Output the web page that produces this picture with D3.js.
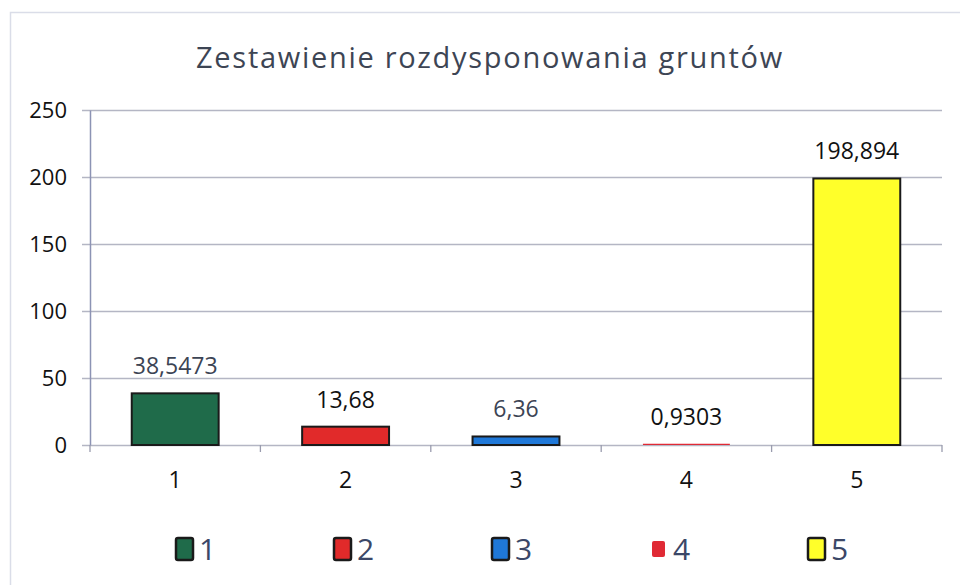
<!DOCTYPE html>
<html lang="pl">
<head>
  <meta charset="UTF-8" />
  <title>Zestawienie rozdysponowania gruntów</title>
  <script src="https://d3js.org/d3.v7.min.js"></script>
  <style>
    body { margin: 0; background: #fff; }
    svg { display: block; font-family: "Open Sans", Lato, sans-serif; }
  </style>
</head>
<body>
  <svg width="960" height="585"></svg>
  <script>
    // dane
    const categories = ["1", "2", "3", "4", "5"];
    const values = [38.5473, 13.68, 6.36, 0.9303, 198.894];
    const labels = ["38,5473", "13,68", "6,36", "0,9303", "198,894"];
    const colors = ["#1f6b4a", "#e12a2a", "#1f78d8", "#e02a35", "#ffff2a"];
    const strokes = ["#1a1a1a", "#1a1a1a", "#1a1a1a", "none", "#1a1a1a"];
    const labelColors = ["#3c4454", "#111", "#3c4454", "#111", "#111"];
    const yTicks = [0, 50, 100, 150, 200, 250];

    const width = 960, height = 585;
    const margin = { left: 90, right: 18, top: 110, bottom: 140 };
    const svg = d3.select("svg");

    // ramka wykresu
    svg.append("rect")
      .attr("x", 10.5).attr("y", 12.5)
      .attr("width", width).attr("height", height)
      .attr("fill", "none").attr("stroke", "#dadde8").attr("stroke-width", 1.5);

    const x = d3.scaleBand()
      .domain(categories)
      .range([margin.left, width - margin.right])
      .paddingInner(0.49).paddingOuter(0.245);
    const y = d3.scaleLinear()
      .domain([0, 250])
      .range([height - margin.bottom, margin.top]);

    // tytuł
    svg.append("text")
      .attr("x", 490).attr("y", 68)
      .attr("text-anchor", "middle")
      .attr("font-size", 29)
      .attr("letter-spacing", 1.7)
      .attr("fill", "#3d4554")
      .text("Zestawienie rozdysponowania gruntów");

    // linie siatki
    svg.append("g")
      .selectAll("line")
      .data(yTicks)
      .join("line")
        .attr("x1", margin.left - 8).attr("x2", width - margin.right)
        .attr("y1", d => y(d) + 0.5).attr("y2", d => y(d) + 0.5)
        .attr("stroke", "#b4b6c4").attr("stroke-width", 1.3);

    // słupki
    svg.append("g")
      .selectAll("rect")
      .data(values)
      .join("rect")
        .attr("x", (d, i) => x(categories[i]))
        .attr("y", d => y(d))
        .attr("width", x.bandwidth())
        .attr("height", d => y(0) - y(d))
        .attr("fill", (d, i) => colors[i])
        .attr("stroke", (d, i) => strokes[i])
        .attr("stroke-width", 2);

    // oś Y
    const yAxis = svg.append("g")
      .attr("transform", `translate(${margin.left},0)`)
      .call(d3.axisLeft(y).tickValues(yTicks).tickSize(0).tickPadding(23));
    yAxis.select(".domain").attr("stroke", "#8c93b4").attr("stroke-width", 1.5);
    yAxis.selectAll("text").attr("font-size", 22).attr("fill", "#111")
      .attr("font-family", "'Open Sans', Lato, sans-serif");

    // oś X
    const tickPos = d3.range(categories.length + 1)
      .map(i => margin.left + i * x.step());
    svg.append("g")
      .selectAll("line")
      .data(tickPos)
      .join("line")
        .attr("x1", d => d).attr("x2", d => d)
        .attr("y1", y(0)).attr("y2", y(0) + 7)
        .attr("stroke", "#9a9cae").attr("stroke-width", 1.3);
    svg.append("g")
      .selectAll("text")
      .data(categories)
      .join("text")
        .attr("x", d => x(d) + x.bandwidth() / 2)
        .attr("y", y(0) + 43)
        .attr("text-anchor", "middle")
        .attr("font-size", 23)
        .attr("fill", "#111")
        .text(d => d);

    // etykiety wartości
    svg.append("g")
      .selectAll("text")
      .data(values)
      .join("text")
        .attr("x", (d, i) => x(categories[i]) + x.bandwidth() / 2)
        .attr("y", d => y(d) - 19)
        .attr("text-anchor", "middle")
        .attr("font-size", 23)
        .attr("fill", (d, i) => labelColors[i])
        .text((d, i) => labels[i]);

    // legenda
    const legend = svg.append("g")
      .selectAll("g")
      .data(categories)
      .join("g")
        .attr("transform", (d, i) => `translate(${176 + i * 158},549)`);
    legend.append("rect")
      .attr("x", (d, i) => strokes[i] === "none" ? 2 : 0)
      .attr("y", (d, i) => strokes[i] === "none" ? -8 : -11)
      .attr("width", (d, i) => strokes[i] === "none" ? 13 : 17)
      .attr("height", (d, i) => strokes[i] === "none" ? 16 : 22)
      .attr("rx", 2)
      .attr("fill", (d, i) => colors[i])
      .attr("stroke", (d, i) => strokes[i])
      .attr("stroke-width", 2.5);
    legend.append("text")
      .attr("x", 23)
      .attr("y", 11)
      .attr("font-size", 30)
      .attr("fill", "#3b4767")
      .text(d => d);
  </script>
</body>
</html>
